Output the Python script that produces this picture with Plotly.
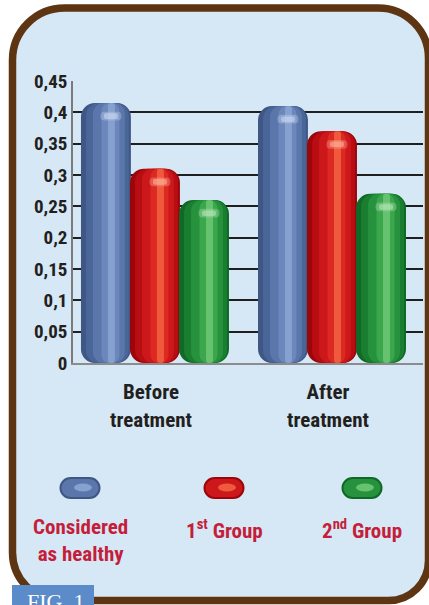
import plotly.graph_objects as go

# ---- data -------------------------------------------------------------
categories = ["Before<br>treatment", "After<br>treatment"]
series_names = ["Considered as healthy", "1st Group", "2nd Group"]
healthy = [0.415, 0.41]
group1 = [0.31, 0.37]
group2 = [0.26, 0.27]
y_ticks = [0, 0.05, 0.1, 0.15, 0.2, 0.25, 0.3, 0.35, 0.4, 0.45]
y_tick_labels = ["0", "0,05", "0,1", "0,15", "0,2", "0,25", "0,3", "0,35", "0,4", "0,45"]
legend_labels = ["Considered<br>as healthy", "1<sup>st</sup> Group", "2<sup>nd</sup> Group"]
fig_label = "FIG. 1"

# ---- geometry ---------------------------------------------------------
W, H = 429, 605
L, R, T, B = 73, 6, 81, 242
PW, PH = W - L - R, H - T - B
FONT = "Roboto Condensed, Roboto, sans-serif"


def px(X, Y):
    """pixel position -> paper coordinates"""
    return (X - L) / PW, (H - B - Y) / PH


def rounded_path(x0, y0, x1, y1, r):
    if not isinstance(r, (list, tuple)):
        r = (r, r, r, r)  # tl, tr, br, bl
    tl, tr, br, bl = r
    c = 0.5523

    def P(X, Y):
        a, b = px(X, Y)
        return f"{a:.5f},{b:.5f}"

    return (
        f"M {P(x0 + tl, y0)} L {P(x1 - tr, y0)} "
        f"C {P(x1 - tr + c * tr, y0)} {P(x1, y0 + tr - c * tr)} {P(x1, y0 + tr)} "
        f"L {P(x1, y1 - br)} "
        f"C {P(x1, y1 - br + c * br)} {P(x1 - br + c * br, y1)} {P(x1 - br, y1)} "
        f"L {P(x0 + bl, y1)} "
        f"C {P(x0 + bl - c * bl, y1)} {P(x0, y1 - bl + c * bl)} {P(x0, y1 - bl)} "
        f"L {P(x0, y0 + tl)} "
        f"C {P(x0, y0 + tl - c * tl)} {P(x0 + tl - c * tl, y0)} {P(x0 + tl, y0)} Z"
    )


# tone ramps, outer edge -> inner highlight
palette = [
    ["#3e5785", "#4a6597", "#5a76aa", "#6b87bb", "#86a0cf", "#c9d6f0"],
    ["#9c060a", "#b80d12", "#cc171b", "#dc2a22", "#f05a3c", "#ffb09a"],
    ["#0f6a26", "#1a7e30", "#27923d", "#3aa74c", "#66c26f", "#b6e6b8"],
]

fig = go.Figure()

# capsule bars built from nested tone layers (explicit base -> both ends rounded)
spacing = 0.277
bw = 0.282
layers = [(1.0, 0.0, 14), (0.86, 0.03, 13), (0.64, 0.06, 11), (0.36, 0.09, 8), (0.14, 0.11, 4)]
for si, vals in enumerate([healthy, group1, group2]):
    centre = (si - 1) * spacing
    for li, (frac, shift, rad) in enumerate(layers):
        w = bw * frac
        off = centre + shift * bw - w / 2
        fig.add_trace(go.Bar(
            x=[0, 1], y=vals, base=[0] * len(vals), width=w, offset=off,
            hoverinfo="skip", showlegend=False,
            marker=dict(color=palette[si][li], cornerradius=rad, line=dict(width=0)),
        ))
    # soft glossy spot near the top of each capsule
    for wf, hgt, op in [(0.42, 0.014, 0.35), (0.28, 0.009, 0.6)]:
        w = bw * wf
        off = centre + 0.1 * bw - w / 2
        fig.add_trace(go.Bar(
            x=[0, 1], y=[hgt] * len(vals), base=[v - 0.021 - hgt / 2 for v in vals],
            width=w, offset=off, hoverinfo="skip", showlegend=False,
            marker=dict(color=palette[si][5], cornerradius=5, line=dict(width=0), opacity=op),
        ))

shapes = [
    dict(type="path", path=rounded_path(12.5, 8, 428.5, 600.5, (52, 50, 40, 48)),
         xref="paper", yref="paper", fillcolor="#d6e8f6",
         line=dict(color="#5e3512", width=7.5), layer="below"),
]

# legend pills and labels
legend_x = [80, 224, 362]
annotations = []
for i, cx in enumerate(legend_x):
    shapes.append(dict(type="path", path=rounded_path(cx - 19.5, 478, cx + 19.5, 498, 10),
                       xref="paper", yref="paper", fillcolor=palette[i][2],
                       line=dict(color=palette[i][0], width=2), layer="above"))
    a0, b0 = px(cx - 6, 483.5)
    a1, b1 = px(cx + 12, 491.5)
    shapes.append(dict(type="circle", x0=a0, y0=b0, x1=a1, y1=b1, xref="paper", yref="paper",
                       fillcolor=palette[i][4], line=dict(width=0), layer="above"))
    ax, ay = px(cx, 513)
    annotations.append(dict(text=legend_labels[i], x=ax, y=ay, xref="paper", yref="paper",
                            xanchor="center", yanchor="top", showarrow=False, align="center",
                            font=dict(family=FONT, size=21, color="#c41e3a", weight="bold")))

# figure tag
f0, g0 = px(12, 585)
f1, g1 = px(94, 612)
shapes.append(dict(type="rect", x0=f0, y0=g0, x1=f1, y1=g1, xref="paper", yref="paper",
                   fillcolor="#5b8bc8", line=dict(width=0), layer="above"))
tx, ty = px(55, 587)
annotations.append(dict(text=fig_label, x=tx, y=ty, xref="paper", yref="paper",
                        xanchor="center", yanchor="top", showarrow=False,
                        font=dict(family="Liberation Serif, serif", size=22, color="white")))

fig.update_layout(
    width=W, height=H, margin=dict(l=L, r=R, t=T, b=B),
    paper_bgcolor="white", plot_bgcolor="rgba(0,0,0,0)",
    barmode="overlay", showlegend=False,
    shapes=shapes, annotations=annotations,
    xaxis=dict(range=[-0.463, 1.514], tickvals=[0, 1], ticktext=categories,
               showgrid=False, zeroline=False, showline=True, linecolor="#8c8c8c",
               linewidth=2, ticks="", ticklen=0, ticklabelstandoff=9, ticklabelshift=-4,
               tickfont=dict(family=FONT, size=21, color="#231f20", weight="bold")),
    yaxis=dict(range=[0, 0.45], tickvals=y_ticks, ticktext=y_tick_labels,
               showgrid=True, gridcolor="#1f1f1f", gridwidth=2, zeroline=False,
               showline=True, linecolor="#7a7a7a", linewidth=1.5, ticks="", ticklen=0,
               ticklabelstandoff=0,
               tickfont=dict(family=FONT, size=19, color="#231f20", weight="bold")),
)

fig.write_html("out.html")
